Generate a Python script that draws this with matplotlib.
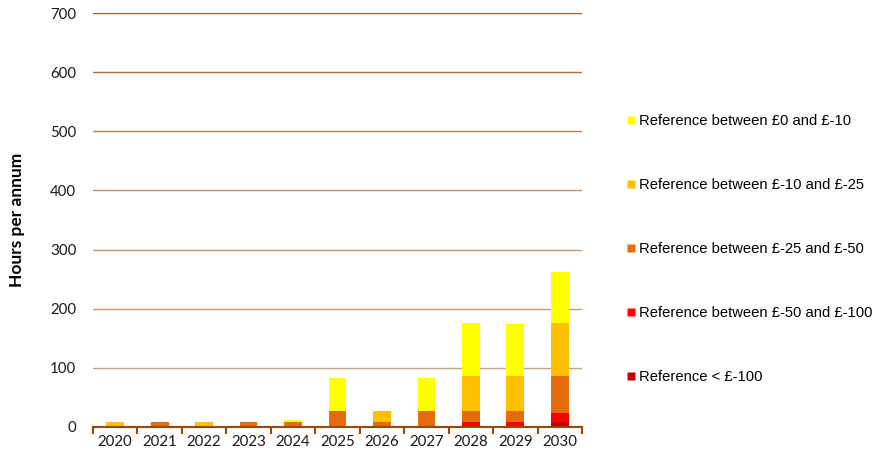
import matplotlib
matplotlib.use('Agg')
import matplotlib.pyplot as plt
import numpy as np
from matplotlib.lines import Line2D

years = ['2020', '2021', '2022', '2023', '2024', '2025', '2026', '2027', '2028', '2029', '2030']

# hours per annum in each price band, stacked from the deepest band upwards
below_100 = [0, 0, 0, 0, 0, 0, 0, 0, 0, 0, 8.5]
band_50_100 = [0, 0, 0, 0, 0, 0, 0, 0, 8.5, 8.5, 15.5]
band_25_50 = [0, 9, 0, 9, 9, 27.5, 8.5, 27.5, 19, 19, 63]
band_10_25 = [9, 0, 9, 0, 0, 0, 19, 0, 59.5, 59.5, 89.5]
band_0_10 = [0, 0, 0, 0, 3, 55, 0, 55, 89.5, 87.5, 85]

series = [
    (below_100, '#C00000', 'Reference < £-100'),
    (band_50_100, '#FF0000', 'Reference between £-50 and £-100'),
    (band_25_50, '#E46C0A', 'Reference between £-25 and £-50'),
    (band_10_25, '#FFC000', 'Reference between £-10 and £-25'),
    (band_0_10, '#FFFF00', 'Reference between £0 and £-10'),
]

fig = plt.figure(figsize=(8.89, 4.63), dpi=100)
ax = fig.add_axes([0.1046, 0.0778, 0.5501, 0.8941])

x = np.arange(len(years))
bottom = np.zeros(len(years))
for values, colour, label in series:
    ax.bar(x, values, width=0.4, bottom=bottom, color=colour, zorder=3)
    bottom += np.array(values)

# gridlines fade from dark brown at the top to tan near the axis
grid_colours = ['#C9A27E', '#C69B74', '#C4966D', '#C18F63', '#BC8050', '#B26A36', '#AE5E26']
for level, colour in zip(range(100, 800, 100), grid_colours):
    ax.axhline(level, color=colour, linewidth=1.0, zorder=1)

ax.set_xlim(-0.5, len(years) - 0.5)
ax.set_ylim(0, 700)
ax.set_yticks(range(0, 800, 100))
ax.set_xticks(x)
ax.set_xticklabels(years)
ax.set_xticks(np.arange(-0.5, len(years), 1.0), minor=True)

for side in ['top', 'right', 'left']:
    ax.spines[side].set_visible(False)
ax.spines['bottom'].set_color('#984807')
ax.spines['bottom'].set_linewidth(1.5)
ax.spines['bottom'].set_zorder(4)

ax.tick_params(axis='x', which='major', length=0, pad=6)
ax.tick_params(axis='x', which='minor', length=5, width=1.5, color='#984807')
ax.tick_params(axis='y', length=0, pad=12)
for lab in ax.get_xticklabels() + ax.get_yticklabels():
    lab.set_fontfamily('Lato')
    lab.set_fontsize(10.8)
    lab.set_color('#1a1a1a')

ax.set_ylabel('Hours per annum', fontfamily='Lato', fontweight='bold', fontsize=12.5)
ax.yaxis.set_label_coords(-0.14, 0.5)

handles = [Line2D([], [], marker='s', linestyle='none', markersize=6,
                  markerfacecolor=c, markeredgecolor='none') for _, c, _ in series[::-1]]
labels = [l for _, _, l in series[::-1]]
fig.legend(handles, labels, loc='center left', bbox_to_anchor=(0.696, 0.4622),
           bbox_transform=fig.transFigure, frameon=False, borderpad=0,
           handlelength=0.6, handletextpad=0.3, labelspacing=3.4,
           prop={'family': 'Liberation Sans', 'size': 10.6})

fig.savefig('out.png', dpi=100)
